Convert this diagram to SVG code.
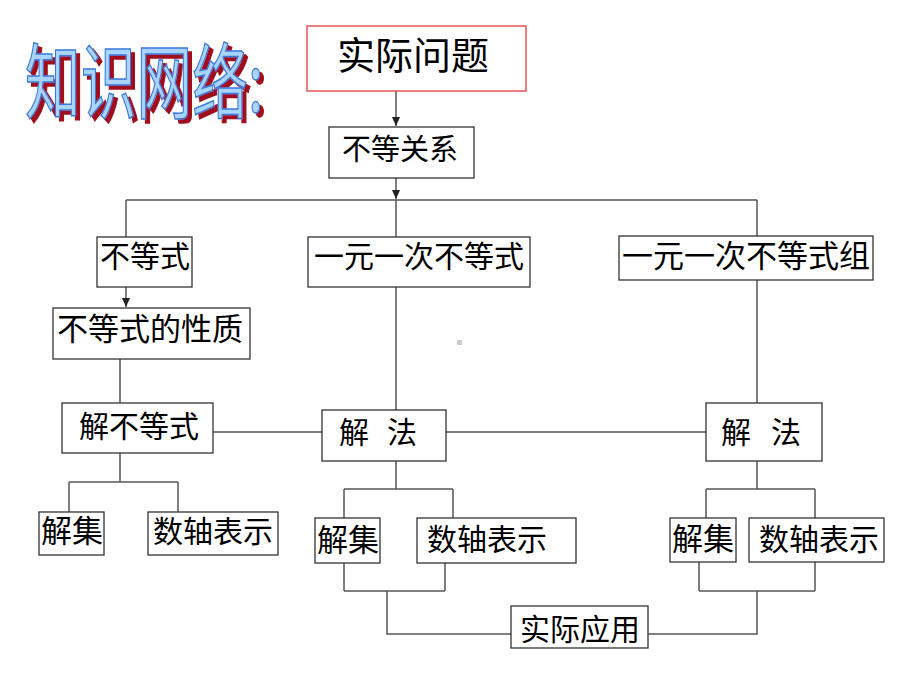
<svg xmlns="http://www.w3.org/2000/svg" width="920" height="690" viewBox="0 0 920 690">
<defs>
<style>
.box{fill:#fff;stroke:#333;stroke-width:1.3}
.red{fill:#fff;stroke:#e8555a;stroke-width:1.5}
.t{font-family:"Noto Sans CJK SC","Liberation Sans",sans-serif;font-size:30px;fill:#000;text-anchor:middle}
.c{fill:none;stroke:#555;stroke-width:1.5}
.title{font-family:"Noto Sans CJK SC","Liberation Sans",sans-serif;font-size:82px}
</style>
<filter id="shadow" x="-10%" y="-10%" width="130%" height="130%">
<feOffset in="SourceAlpha" dx="4" dy="4" result="off"/>
<feFlood flood-color="#a0101a"/>
<feComposite in2="off" operator="in" result="sh"/>
<feMerge><feMergeNode in="sh"/><feMergeNode in="SourceGraphic"/></feMerge>
</filter>
<marker id="ah" markerWidth="10" markerHeight="10" refX="9" refY="4" orient="auto" markerUnits="userSpaceOnUse">
<path d="M0,0 L9,4 L0,8 Z" fill="#222"/>
</marker>
</defs>
<rect width="920" height="690" fill="#fff"/>

<g id="title" filter="url(#shadow)">
<text class="title" transform="translate(25,112) scale(0.68,1)" fill="#a8d4ff" stroke="#3a78d8" stroke-width="1.5">知识网络:</text>
</g>

<g id="connectors">
<path class="c" d="M396,91 V126" marker-end="url(#ah)"/>
<path class="c" d="M396,178 V199" marker-end="url(#ah)"/>
<path class="c" d="M126,200 H757 M126,200 V237 M396,200 V237 M757,200 V236"/>
<path class="c" d="M126,287 V307" marker-end="url(#ah)"/>
<path class="c" d="M396,287 V410 M757,280 V403 M120,359 V403"/>
<path class="c" d="M213,432 H322 M446,432 H706"/>
<path class="c" d="M120,453 V482 M69,482 H178 M69,482 V512 M178,482 V512"/>
<path class="c" d="M396,461 V489 M344,489 H453 M344,489 V518 M453,489 V518"/>
<path class="c" d="M344,563 V591 M445,563 V591 M344,591 H445 M387,591 V634 H511"/>
<path class="c" d="M757,461 V489 M706,489 H815 M706,489 V518 M815,489 V518"/>
<path class="c" d="M699,562 V591 M815,562 V591 M699,591 H815 M757,591 V634 H648"/>
</g>

<rect x="457" y="340" width="5" height="5" fill="#ccc"/>

<g id="n_shijiwenti"><rect class="red" x="307" y="26" width="219" height="65"/><text class="t" x="413" y="69" style="font-size:38px">实际问题</text></g>
<g id="n_budengguanxi"><rect class="box" x="329" y="127" width="145" height="51"/><text class="t" x="400" y="160" style="font-size:29px">不等关系</text></g>
<g id="n_budengshi"><rect class="box" x="97" y="237" width="95" height="50"/><text class="t" x="145" y="267">不等式</text></g>
<g id="n_yiyuan"><rect class="box" x="308" y="237" width="222" height="50"/><text class="t" x="419" y="267">一元一次不等式</text></g>
<g id="n_yiyuanzu"><rect class="box" x="619" y="236" width="254" height="44"/><text class="t" x="746" y="267" style="font-size:31px">一元一次不等式组</text></g>
<g id="n_xingzhi"><rect class="box" x="53" y="308" width="197" height="51"/><text class="t" x="150" y="340" style="font-size:31px">不等式的性质</text></g>
<g id="n_jiebudengshi"><rect class="box" x="62" y="403" width="151" height="50"/><text class="t" x="139" y="437">解不等式</text></g>
<g id="n_jiefa_m"><rect class="box" x="322" y="410" width="124" height="51"/><text class="t" x="354" y="443">解</text><text class="t" x="402" y="443">法</text></g>
<g id="n_jiefa_r"><rect class="box" x="706" y="403" width="116" height="58"/><text class="t" x="736" y="443">解</text><text class="t" x="786" y="443">法</text></g>
<g id="n_jieji_l"><rect class="box" x="39" y="512" width="65" height="43"/><text class="t" x="72" y="542" style="font-size:31px">解集</text></g>
<g id="n_shuzhou_l"><rect class="box" x="148" y="512" width="130" height="43"/><text class="t" x="213" y="542">数轴表示</text></g>
<g id="n_jieji_m"><rect class="box" x="315" y="518" width="65" height="45"/><text class="t" x="348" y="551" style="font-size:31px">解集</text></g>
<g id="n_shuzhou_m"><rect class="box" x="417" y="518" width="159" height="45"/><text class="t" x="487" y="550">数轴表示</text></g>
<g id="n_jieji_r"><rect class="box" x="670" y="518" width="66" height="44"/><text class="t" x="703" y="550" style="font-size:31px">解集</text></g>
<g id="n_shuzhou_r"><rect class="box" x="749" y="518" width="135" height="44"/><text class="t" x="819" y="550">数轴表示</text></g>
<g id="n_yingyong"><rect class="box" x="511" y="606" width="137" height="42"/><text class="t" x="580" y="640">实际应用</text></g>
</svg>
